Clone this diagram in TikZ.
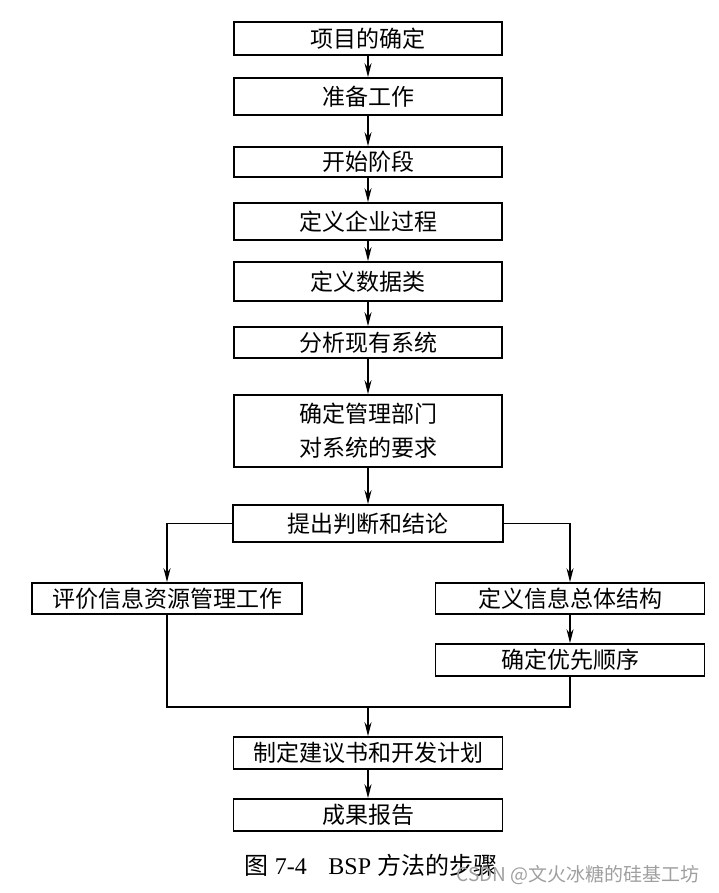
\documentclass[tikz,border=0pt]{standalone}
\usepackage{fontspec}
\setmainfont{Liberation Serif}
\newfontfamily\cjk{Noto Sans CJK SC}
\usetikzlibrary{arrows.meta}
\tikzset{
  stepbox/.style={draw, line width=1.6pt, minimum width=268pt, inner sep=0pt,
    align=center, font=\cjk\fontsize{23}{34}\selectfont},
  flow/.style={line width=1.3pt, -{Stealth[length=14pt,width=7pt]}},
  link/.style={line width=1.3pt}
}
\begin{document}
\begin{tikzpicture}[x=1pt,y=-1pt]
	\useasboundingbox (0,0) rectangle (719,893);
	% middle column
	\node[stepbox, minimum height=33pt] (xmqd) at (368,38.5) {项目的确定};
	\node[stepbox, minimum height=37pt] (zbgz) at (368,96.5) {准备工作};
	\node[stepbox, minimum height=30pt] (ksjd) at (368,162) {开始阶段};
	\node[stepbox, minimum height=37pt] (dyqy) at (368,221.5) {定义企业过程};
	\node[stepbox, minimum height=39pt] (dysj) at (368,281.5) {定义数据类};
	\node[stepbox, minimum height=31pt] (fxxy) at (368,342.5) {分析现有系统};
	\node[stepbox, minimum height=72pt] (qdgl) at (368,431) {确定管理部门\\对系统的要求};
	\node[stepbox, minimum height=37pt, minimum width=270pt] (tcpd) at (368,523.5) {提出判断和结论};
	% two branches
	\node[stepbox, minimum height=31pt, minimum width=270pt] (pjxx) at (167,598.5) {评价信息资源管理工作};
	\node[stepbox, minimum height=31pt, minimum width=269pt] (dyxx) at (570,598.5) {定义信息总体结构};
	\node[stepbox, minimum height=32pt, minimum width=269pt] (qdyx) at (570,660) {确定优先顺序};
	\coordinate (hb) at (368,707);
	% bottom
	\node[stepbox, minimum height=32pt, minimum width=269pt] (zdjy) at (368,753) {制定建议书和开发计划};
	\node[stepbox, minimum height=32pt, minimum width=269pt] (cgbg) at (368,815) {成果报告};
	\node[font=\fontsize{24}{28}\selectfont] (tuming) at (371,865) {{\cjk 图}\ 7-4\hspace{0.9em}BSP\ {\cjk 方法的步骤}};
	\node[text=gray!75, font=\cjk\fontsize{19}{22}\selectfont] (shuiyin) at (578,875) {CSDN @文火冰糖的硅基工坊};

	\draw[flow] (xmqd) -- (zbgz);
	\draw[flow] (zbgz) -- (ksjd);
	\draw[flow] (ksjd) -- (dyqy);
	\draw[flow] (dyqy) -- (dysj);
	\draw[flow] (dysj) -- (fxxy);
	\draw[flow] (fxxy) -- (qdgl);
	\draw[flow] (qdgl) -- (tcpd);
	\draw[flow] (tcpd.west) -| (pjxx.north);
	\draw[flow] (tcpd.east) -| (dyxx.north);
	\draw[flow] (dyxx) -- (qdyx);
	\draw[link] (pjxx.south) -- (pjxx.south |- hb) -- (qdyx.south |- hb) -- (qdyx.south);
	\draw[flow] (hb) -- (zdjy);
	\draw[flow] (zdjy) -- (cgbg);
\end{tikzpicture}
\end{document}
